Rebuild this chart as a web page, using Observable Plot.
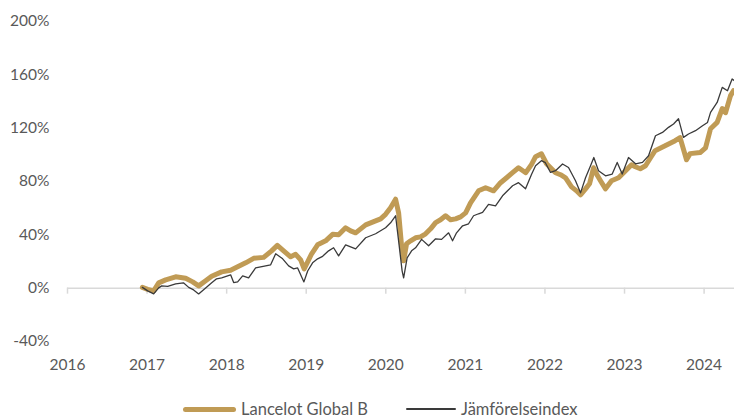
<!DOCTYPE html>
<html>
<head>
<meta charset="utf-8">
<script src="https://cdn.jsdelivr.net/npm/d3@7"></script>
<script src="https://cdn.jsdelivr.net/npm/@observablehq/plot@0.6"></script>
<style>
  html, body { margin: 0; padding: 0; background: #fff; }
  #wrap { position: relative; width: 734px; height: 419px; font-family: Lato, "Open Sans", sans-serif; color: #595959; }
  #legend { position: absolute; top: 398px; left: 0; width: 734px; height: 22px; font-size: 16.5px; }
  .item { position: absolute; top: 0; height: 22px; display: flex; align-items: center; }
  .sw { display: inline-block; margin-right: 5px; border-radius: 3px; }
</style>
</head>
<body>
<div id="wrap">
  <div id="chart"></div>
  <div id="legend"></div>
</div>
<script>
const seriesNames = ["Lancelot Global B", "Jämförelseindex"];
const seriesColors = ["#C09B55", "#3A3A3A"];

const yTicks = [-40, 0, 40, 80, 120, 160, 200];
const xTicks = [2016, 2017, 2018, 2019, 2020, 2021, 2022, 2023, 2024];

const lancelotYears = [2016.941, 2017.008, 2017.083, 2017.146, 2017.234, 2017.359, 2017.485, 2017.573, 2017.648, 2017.736,
  2017.812, 2017.937, 2018.050, 2018.138, 2018.239, 2018.339, 2018.465, 2018.565, 2018.637, 2018.716,
  2018.804, 2018.867, 2018.930, 2018.974, 2019.018, 2019.068, 2019.143, 2019.244, 2019.332, 2019.407,
  2019.495, 2019.558, 2019.621, 2019.747, 2019.872, 2019.935, 2019.997, 2020.060, 2020.123, 2020.161,
  2020.198, 2020.224, 2020.261, 2020.312, 2020.374, 2020.437, 2020.500, 2020.563, 2020.626, 2020.688,
  2020.751, 2020.814, 2020.877, 2020.940, 2021.003, 2021.065, 2021.166, 2021.254, 2021.354, 2021.442,
  2021.518, 2021.593, 2021.668, 2021.759, 2021.832, 2021.882, 2021.955, 2022.020, 2022.070, 2022.133,
  2022.196, 2022.259, 2022.334, 2022.397, 2022.447, 2022.510, 2022.560, 2022.611, 2022.661, 2022.698,
  2022.761, 2022.837, 2022.925, 2023.013, 2023.088, 2023.136, 2023.198, 2023.264, 2023.327, 2023.384,
  2023.510, 2023.636, 2023.698, 2023.779, 2023.824, 2023.950, 2024.018, 2024.081, 2024.164, 2024.228,
  2024.269, 2024.332, 2024.369];
const lancelotValues = [0.6, -0.9, -2.0, 4.0, 6.2, 8.5, 7.4, 4.7, 1.7, 5.5,
  8.9, 12.2, 13.4, 16.0, 19.0, 22.4, 23.1, 28.0, 32.1, 28.0,
  23.5, 25.4, 21.2, 14.5, 19.7, 25.8, 32.5, 35.5, 40.4, 40.0,
  45.3, 43.0, 41.5, 47.5, 50.5, 52.0, 55.4, 60.3, 66.7, 56.5,
  31.8, 20.5, 33.3, 35.5, 37.8, 38.5, 40.8, 44.5, 49.2, 51.3,
  54.3, 51.3, 52.0, 53.5, 56.5, 64.0, 73.0, 75.3, 73.0, 79.1,
  82.8, 86.6, 90.3, 86.6, 92.9, 98.6, 100.8, 93.3, 90.3, 86.6,
  85.1, 82.8, 76.0, 73.0, 70.0, 74.5, 78.3, 90.3, 84.3, 80.6,
  74.5, 80.6, 82.8, 88.1, 92.6, 91.1, 89.6, 91.8, 97.8, 103.1,
  106.8, 110.6, 112.9, 96.3, 100.9, 101.7, 105.3, 119.6, 124.3, 134.6,
  131.6, 144.4, 148.1];

const indexYears = [2016.941, 2017.008, 2017.083, 2017.146, 2017.183, 2017.259, 2017.359, 2017.457, 2017.523, 2017.585,
  2017.648, 2017.736, 2017.812, 2017.874, 2017.937, 2018.050, 2018.088, 2018.138, 2018.201, 2018.276,
  2018.364, 2018.490, 2018.553, 2018.616, 2018.704, 2018.779, 2018.842, 2018.892, 2018.971, 2019.018,
  2019.080, 2019.143, 2019.206, 2019.281, 2019.344, 2019.407, 2019.495, 2019.558, 2019.621, 2019.747,
  2019.872, 2019.997, 2020.060, 2020.123, 2020.161, 2020.205, 2020.224, 2020.268, 2020.324, 2020.374,
  2020.450, 2020.538, 2020.626, 2020.701, 2020.789, 2020.839, 2020.889, 2020.965, 2021.040, 2021.103,
  2021.166, 2021.216, 2021.291, 2021.379, 2021.467, 2021.530, 2021.593, 2021.668, 2021.756, 2021.832,
  2021.882, 2021.955, 2022.005, 2022.070, 2022.133, 2022.221, 2022.296, 2022.384, 2022.447, 2022.510,
  2022.573, 2022.614, 2022.673, 2022.761, 2022.845, 2022.908, 2022.971, 2023.050, 2023.138, 2023.226,
  2023.302, 2023.389, 2023.477, 2023.553, 2023.616, 2023.678, 2023.741, 2023.804, 2023.892, 2023.980,
  2024.043, 2024.081, 2024.164, 2024.228, 2024.294, 2024.352, 2024.382];
const indexValues = [0.6, -2.0, -4.3, 0.2, 1.7, 1.4, 3.2, 4.0, 0.6, -1.3,
  -4.3, 0.2, 4.0, 7.0, 7.7, 10.0, 4.2, 4.7, 9.2, 7.7,
  15.2, 16.7, 17.5, 25.8, 22.0, 16.7, 14.5, 15.2, 4.7, 12.9,
  19.0, 22.0, 23.9, 28.0, 30.3, 24.2, 32.5, 31.0, 29.5, 37.8,
  40.8, 45.3, 49.0, 54.3, 35.5, 13.0, 7.7, 22.7, 28.0, 30.3,
  36.6, 31.8, 37.0, 36.6, 41.5, 35.5, 41.5, 46.8, 48.3, 54.3,
  55.8, 56.8, 62.9, 61.8, 69.3, 73.0, 76.8, 79.1, 74.5, 85.4,
  91.8, 95.6, 94.1, 86.8, 88.1, 93.1, 90.5, 80.6, 71.5, 82.8,
  91.8, 98.0, 88.1, 84.3, 85.6, 94.3, 85.6, 98.0, 93.3, 94.3,
  99.3, 114.3, 116.8, 120.6, 123.1, 127.1, 113.1, 115.6, 118.1, 121.8,
  124.3, 131.8, 139.3, 150.6, 148.1, 156.9, 155.6];

const lancelot = lancelotYears.map((t, i) => ({t, v: lancelotValues[i]}));
const index = indexYears.map((t, i) => ({t, v: indexValues[i]}));

const chart = Plot.plot({
  width: 734,
  height: 392,
  marginLeft: 67,
  marginRight: 0,
  marginTop: 21,
  marginBottom: 51,
  style: {fontFamily: "Lato, 'Open Sans', sans-serif", fontSize: "15.5px", color: "#595959", background: "#fff"},
  x: {type: "linear", domain: [2016, 2024.382]},
  y: {domain: [-40, 200]},
  marks: [
    Plot.axisY({ticks: yTicks, tickSize: 0, tickPadding: 18, tickFormat: d => d + "%", fill: "#595959", label: null}),
    Plot.axisX({ticks: xTicks, tickSize: 0, tickPadding: 17, tickFormat: d => String(d), fill: "#595959", label: null}),
    Plot.ruleY([0], {stroke: "#D9D9D9", strokeWidth: 1.5}),
    Plot.ruleX(xTicks, {x: d => d, y1: 0, y2: -4.5, stroke: "#D9D9D9", strokeWidth: 1.5}),
    Plot.line(lancelot, {x: "t", y: "v", stroke: seriesColors[0], strokeWidth: 5, strokeLinejoin: "round", strokeLinecap: "round"}),
    Plot.line(index, {x: "t", y: "v", stroke: seriesColors[1], strokeWidth: 1.3, strokeLinejoin: "round"})
  ]
});
document.getElementById("chart").appendChild(chart);

const legend = document.getElementById("legend");
const legendLeft = [183, 406];
const swatchW = [53, 50];
const swatchH = [5, 1.5];
seriesNames.forEach((name, i) => {
  const item = document.createElement("div");
  item.className = "item";
  item.style.left = legendLeft[i] + "px";
  const sw = document.createElement("span");
  sw.className = "sw";
  sw.style.width = swatchW[i] + "px";
  sw.style.height = swatchH[i] + "px";
  sw.style.background = seriesColors[i];
  item.appendChild(sw);
  const txt = document.createElement("span");
  txt.textContent = name;
  item.appendChild(txt);
  legend.appendChild(item);
});
</script>
</body>
</html>
